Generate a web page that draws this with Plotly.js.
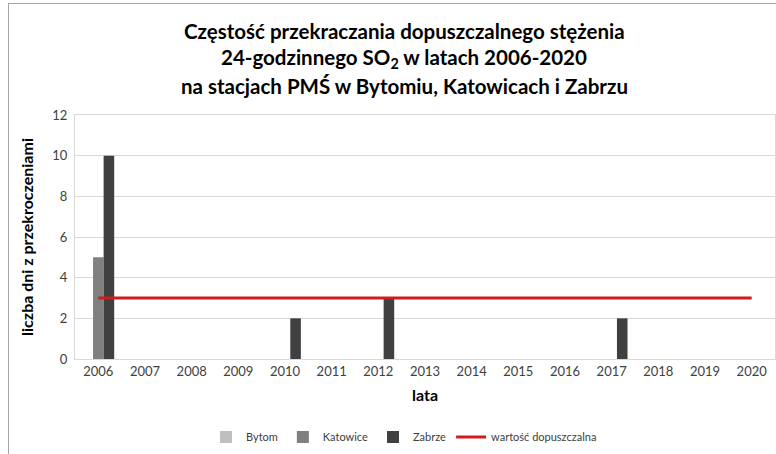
<!DOCTYPE html>
<html>
<head>
<meta charset="utf-8">
<script src="https://cdn.plot.ly/plotly-3.0.1.min.js"></script>
<style>
html,body{margin:0;padding:0;background:#fff;}
#wrap{position:relative;width:776px;height:454px;overflow:hidden;}
#frame{position:absolute;left:8px;top:3px;width:800px;height:500px;border-left:1px solid #a6a6a6;border-top:1px solid #a6a6a6;pointer-events:none;}
#chart{position:absolute;left:0;top:0;width:776px;height:454px;}
</style>
</head>
<body>
<div id="wrap">
<div id="chart"></div>
<div id="frame"></div>
</div>
<script>
const years = ["2006","2007","2008","2009","2010","2011","2012","2013","2014","2015","2016","2017","2018","2019","2020"];
const bytom    = [0,0,0,0,0,0,0,0,0,0,0,0,0,0,0];
const katowice = [5,0,0,0,0,0,0,0,0,0,0,0,0,0,0];
const zabrze   = [10,0,0,0,2,0,3,0,0,0,0,2,0,0,0];
const limit    = [3,3,3,3,3,3,3,3,3,3,3,3,3,3,3];
const yTicks   = [0,2,4,6,8,10,12];
const titleLines = [
  'Częstość przekraczania dopuszczalnego stężenia',
  '24-godzinnego SO<sub>2</sub> w latach 2006-2020',
  'na stacjach PMŚ w Bytomiu, Katowicach i Zabrzu'
];

const font = "Lato, 'Open Sans', sans-serif";
const traces = [
  {type:'bar', name:'Bytom', x:years, y:bytom, marker:{color:'#bfbfbf'}},
  {type:'bar', name:'Katowice', x:years, y:katowice, marker:{color:'#808080'}},
  {type:'bar', name:'Zabrze', x:years, y:zabrze, marker:{color:'#404040'}},
  {type:'scatter', mode:'lines', name:'wartość dopuszczalna', x:years, y:limit, line:{color:'#d01c1f', width:3}}
];
const titleY = [1.344, 1.232, 1.119];
const annotations = titleLines.map((t, i) => ({
  text:'<b>' + t + '</b>', xref:'paper', yref:'paper', x:0.47, y:titleY[i],
  xanchor:'center', yanchor:'middle', showarrow:false,
  font:{family:font, size:20.5, color:'#000'}
}));
const layout = {
  width:776, height:454,
  margin:{l:75, r:1, t:115, b:95},
  paper_bgcolor:'rgba(0,0,0,0)', plot_bgcolor:'#fff',
  font:{family:font, size:12, color:'#404040'},
  annotations:annotations,
  barmode:'group', bargap:0.32, bargroupgap:0,
  xaxis:{type:'category', showline:true, linecolor:'#d9d9d9', mirror:true, ticks:'', showgrid:false,
         tickfont:{size:13, color:'#404040'},
         title:{text:'<b>lata</b>', font:{size:16, color:'#000'}, standoff:12}},
  yaxis:{range:[0,12], tickvals:yTicks, showline:true, linecolor:'#d9d9d9', mirror:true, gridcolor:'#d9d9d9', zeroline:false,
         ticks:'outside', tickcolor:'rgba(0,0,0,0)', ticklen:4, tickfont:{size:13, color:'#404040'},
         title:{text:'<b>liczba dni z przekroczeniami</b>', font:{size:16, color:'#000'}, standoff:14}},
  legend:{orientation:'h', x:0.47, xanchor:'center', y:-0.32, yanchor:'middle', font:{size:11, color:'#404040'}, itemwidth:30},
  showlegend:true
};
Plotly.newPlot('chart', traces, layout, {displayModeBar:false, staticPlot:true});
</script>
</body>
</html>
